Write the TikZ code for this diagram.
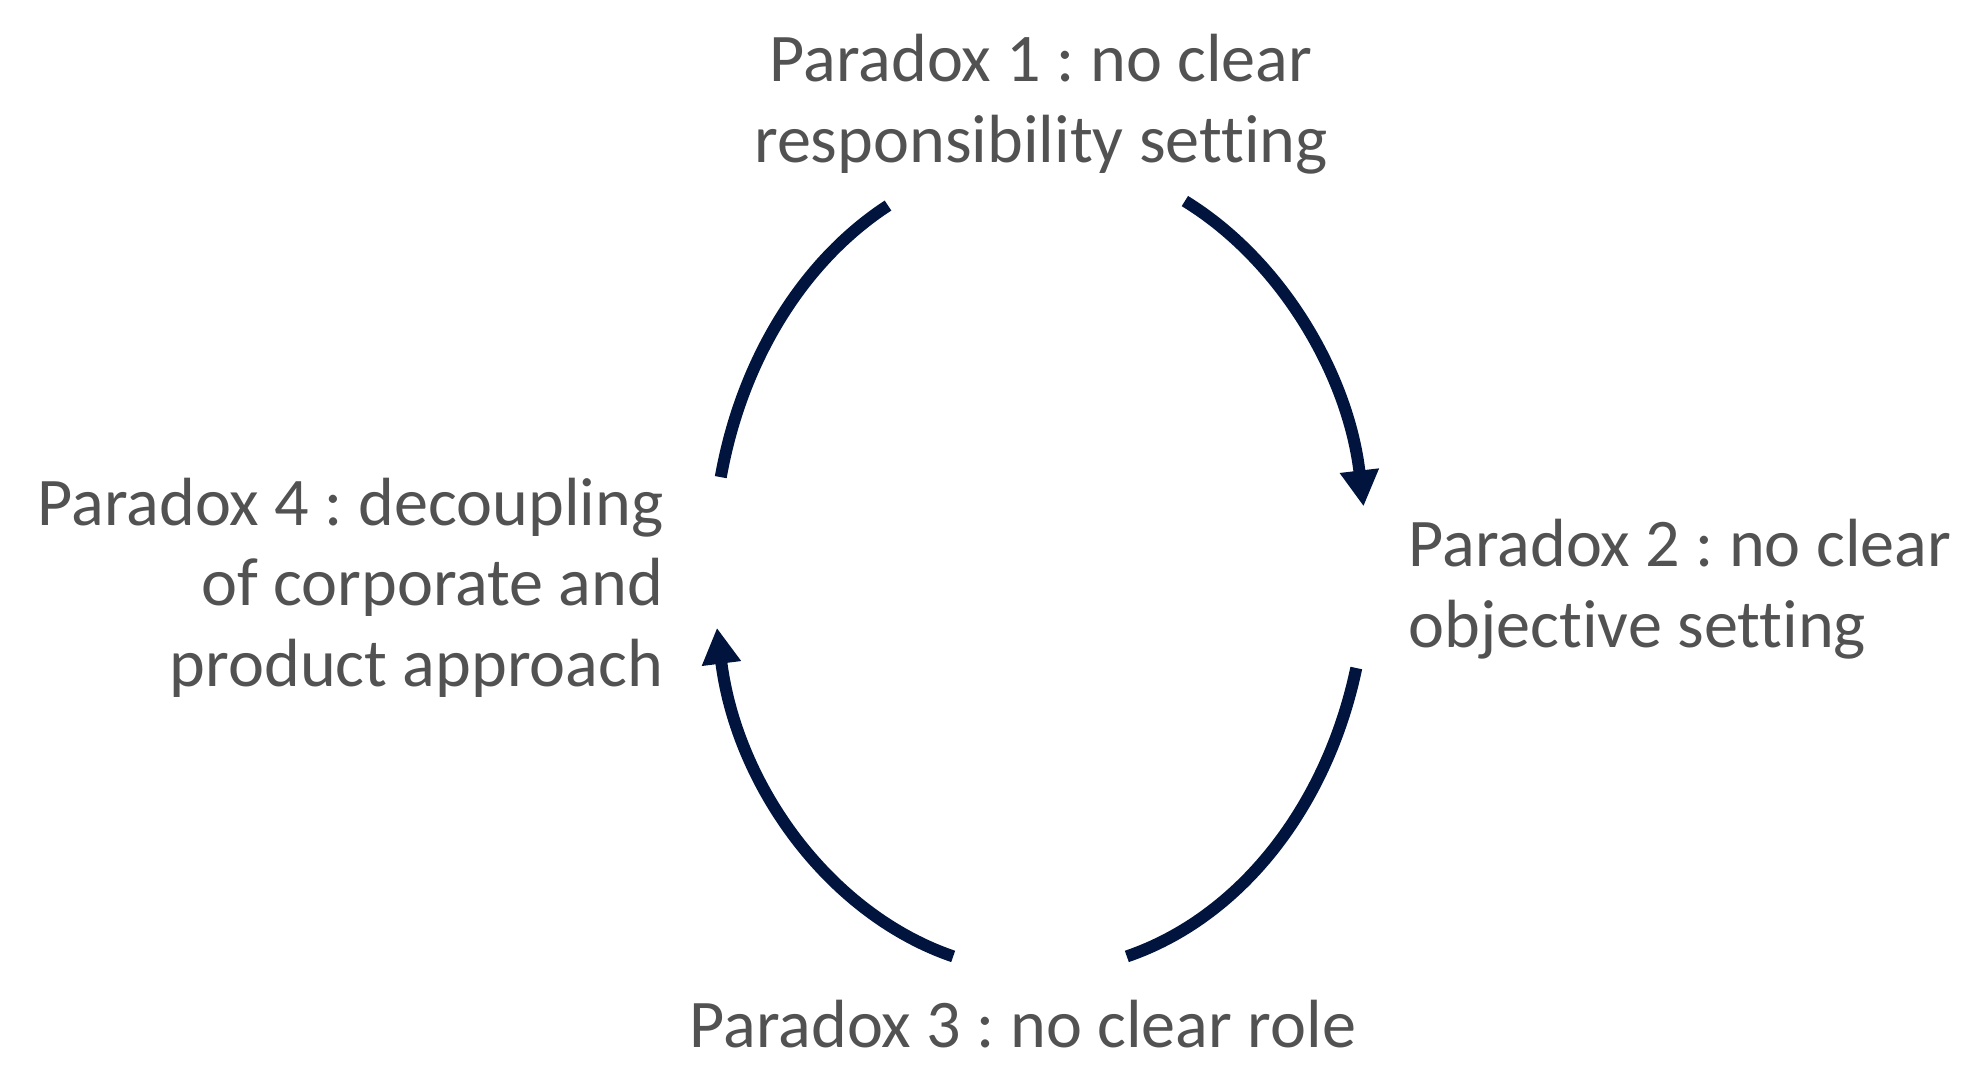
\documentclass[tikz,border=0pt]{standalone}
\usepackage{fontspec}
\setmainfont{Carlito}[Ligatures=NoCommon]
\usepackage{tikz}
\usetikzlibrary{arrows.meta}
\usetikzlibrary{positioning}
\frenchspacing

\definecolor{cyclenavy}{HTML}{00143E}
\definecolor{labelgray}{HTML}{525252}

\tikzset{
  paradox/.style={inner sep=0pt, text=labelgray, font=\fontsize{19.4pt}{22.9pt}\selectfont},
  cyclearc/.style={draw=cyclenavy, line width=0.12cm},
  cycletip/.style={-{Triangle[length=0.36cm, width=0.37cm]}}
}

\begin{document}
\begin{tikzpicture}
  \useasboundingbox (0,0) rectangle (19.88,-10.76);
  \coordinate (hub) at (10.40,-5.65);

  % the four paradoxes
  \node[paradox, anchor=base, align=center] (resp) at (10.41,-1.62)
    {Paradox 1 : no clear\\responsibility setting};
  \node[paradox, anchor=base west, align=left] (obj) at (14.08,-6.47)
    {Paradox 2 : no clear\\objective setting};
  \node[paradox, anchor=base] (role) at (10.23,-10.47)
    {Paradox 3 : no clear role};
  \node[paradox, anchor=base east, align=right] (decoup) at (6.64,-6.86)
    {Paradox 4 : decoupling\\of corporate and\\product approach};

  % cycle
  \draw[cyclearc] ([shift={(117.7:3.27 and 4.06)}]hub)
    arc[start angle=117.7, end angle=167.5, x radius=3.27, y radius=4.06];
  \draw[cyclearc, cycletip] ([shift={(63.7:3.27 and 4.06)}]hub)
    arc[start angle=63.7, end angle=8.3, x radius=3.27, y radius=4.06];
  \draw[cyclearc] ([shift={(-14.7:3.27 and 4.06)}]hub)
    arc[start angle=-14.7, end angle=-74.6, x radius=3.27, y radius=4.06];
  \draw[cyclearc, cycletip] ([shift={(254.6:3.27 and 4.06)}]hub)
    arc[start angle=254.6, end angle=188.9, x radius=3.27, y radius=4.06];
\end{tikzpicture}
\end{document}
